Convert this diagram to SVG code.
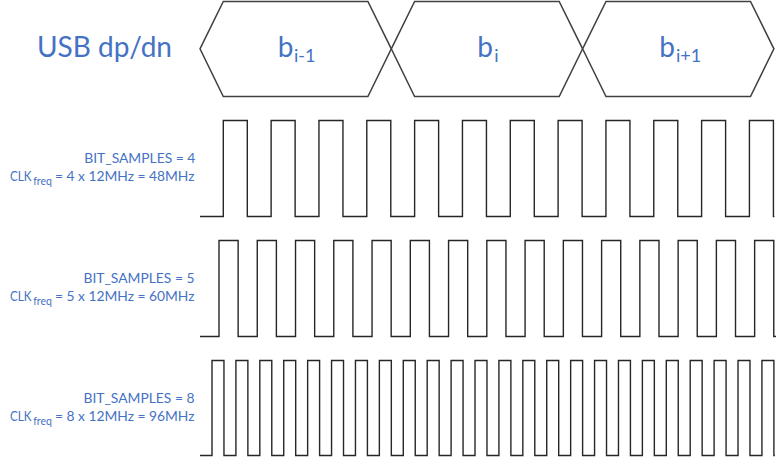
<svg xmlns="http://www.w3.org/2000/svg" width="776" height="457" viewBox="0 0 776 457">
<style>
.t{font-family:Lato,"Open Sans","Liberation Sans",sans-serif;fill:#4472C4}
.big{font-size:28px}
.sub{font-size:18px}
.lbl{font-size:12.8px}
.tiny{font-size:10.5px}
.hex{fill:#fff;stroke:#404040;stroke-width:1.5;stroke-linejoin:miter}
.clk{fill:none;stroke:#262626;stroke-width:1.4;stroke-linejoin:miter}
</style>
<rect width="776" height="457" fill="#fff"/>
<g id="title"><text class="t big" x="37" y="57" textLength="135" lengthAdjust="spacingAndGlyphs">USB dp/dn</text></g>
<g id="bit-prev">
<polygon class="hex" points="200,48.8 223.3,1.5 367.9,1.5 391.3,48.8 367.9,96.5 223.3,96.5"/>
<text class="t big" x="277.7" y="57">b<tspan class="sub" x="294" y="62.3">i-1</tspan></text>
</g>
<g id="bit-cur">
<polygon class="hex" points="391.3,48.8 414.6,1.5 559.2,1.5 582.6,48.8 559.2,96.5 414.6,96.5"/>
<text class="t big" x="477.3" y="57">b<tspan class="sub" x="494.3" y="62.3">i</tspan></text>
</g>
<g id="bit-next">
<polygon class="hex" points="582.6,48.8 606,1.5 750.5,1.5 773.9,48.8 750.5,96.5 606,96.5"/>
<text class="t big" x="659.3" y="57">b<tspan class="sub" x="676" y="62.3">i+1</tspan></text>
</g>
<g id="clk4">
<text class="t lbl" x="84.3" y="163.3" textLength="111" lengthAdjust="spacingAndGlyphs">BIT_SAMPLES = 4</text>
<text class="t lbl" y="181.2"><tspan x="10" textLength="21.5" lengthAdjust="spacingAndGlyphs">CLK</tspan><tspan class="tiny" x="33.2" y="184.8">freq </tspan><tspan x="55" y="181.2" textLength="139.5" lengthAdjust="spacingAndGlyphs">= 4 x 12MHz = 48MHz</tspan></text>
</g>
<g id="clk5">
<text class="t lbl" x="83.5" y="282.7" textLength="111" lengthAdjust="spacingAndGlyphs">BIT_SAMPLES = 5</text>
<text class="t lbl" y="301.4"><tspan x="10" textLength="21.5" lengthAdjust="spacingAndGlyphs">CLK</tspan><tspan class="tiny" x="33.2" y="305">freq </tspan><tspan x="55" y="301.4" textLength="139.5" lengthAdjust="spacingAndGlyphs">= 5 x 12MHz = 60MHz</tspan></text>
</g>
<g id="clk8">
<text class="t lbl" x="83.5" y="402.7" textLength="111" lengthAdjust="spacingAndGlyphs">BIT_SAMPLES = 8</text>
<text class="t lbl" y="421.2"><tspan x="10" textLength="21.5" lengthAdjust="spacingAndGlyphs">CLK</tspan><tspan class="tiny" x="33.2" y="424.8">freq </tspan><tspan x="55" y="421.2" textLength="139.5" lengthAdjust="spacingAndGlyphs">= 8 x 12MHz = 96MHz</tspan></text>
</g>
<g id="connectors">
<path class="clk" d="M200,216.5 H223.3 V120.5 h24 V216.5 h23.83 V120.5 h24 V216.5 h23.83 V120.5 h24 V216.5 h23.83 V120.5 h24 V216.5 h23.83 V120.5 h24 V216.5 h23.83 V120.5 h24 V216.5 h23.83 V120.5 h24 V216.5 h23.83 V120.5 h24 V216.5 h23.83 V120.5 h24 V216.5 h23.83 V120.5 h24 V216.5 h23.83 V120.5 h24 V216.5 h23.83 V120.5 h24 V216.5 h1"/>
<path class="clk" d="M200,336.5 H219 V240.5 h19.13 V336.5 h19.13 V240.5 h19.13 V336.5 h19.13 V240.5 h19.13 V336.5 h19.13 V240.5 h19.13 V336.5 h19.13 V240.5 h19.13 V336.5 h19.13 V240.5 h19.13 V336.5 h19.13 V240.5 h19.13 V336.5 h19.13 V240.5 h19.13 V336.5 h19.13 V240.5 h19.13 V336.5 h19.13 V240.5 h19.13 V336.5 h19.13 V240.5 h19.13 V336.5 h19.13 V240.5 h19.13 V336.5 h19.13 V240.5 h19.13 V336.5 h19.13 V240.5 h19.13 V336.5 h19.13 V240.5 h19.13 V336.5 h19.13 V240.5 h19.13 V336.5 h1"/>
<path class="clk" d="M200,455.5 H212 V360.5 h11.96 V455.5 h11.95 V360.5 h11.96 V455.5 h11.95 V360.5 h11.96 V455.5 h11.95 V360.5 h11.96 V455.5 h11.95 V360.5 h11.96 V455.5 h11.95 V360.5 h11.96 V455.5 h11.95 V360.5 h11.96 V455.5 h11.95 V360.5 h11.96 V455.5 h11.95 V360.5 h11.96 V455.5 h11.95 V360.5 h11.96 V455.5 h11.95 V360.5 h11.96 V455.5 h11.95 V360.5 h11.96 V455.5 h11.95 V360.5 h11.96 V455.5 h11.95 V360.5 h11.96 V455.5 h11.95 V360.5 h11.96 V455.5 h11.95 V360.5 h11.96 V455.5 h11.95 V360.5 h11.96 V455.5 h11.95 V360.5 h11.96 V455.5 h11.95 V360.5 h11.96 V455.5 h11.95 V360.5 h11.96 V455.5 h11.95 V360.5 h11.96 V455.5 h11.95 V360.5 h11.96 V455.5 h11.95 V360.5 h11.96 V455.5 h11.95 V360.5 h11.96 V455.5 h1"/>
</g>
</svg>
